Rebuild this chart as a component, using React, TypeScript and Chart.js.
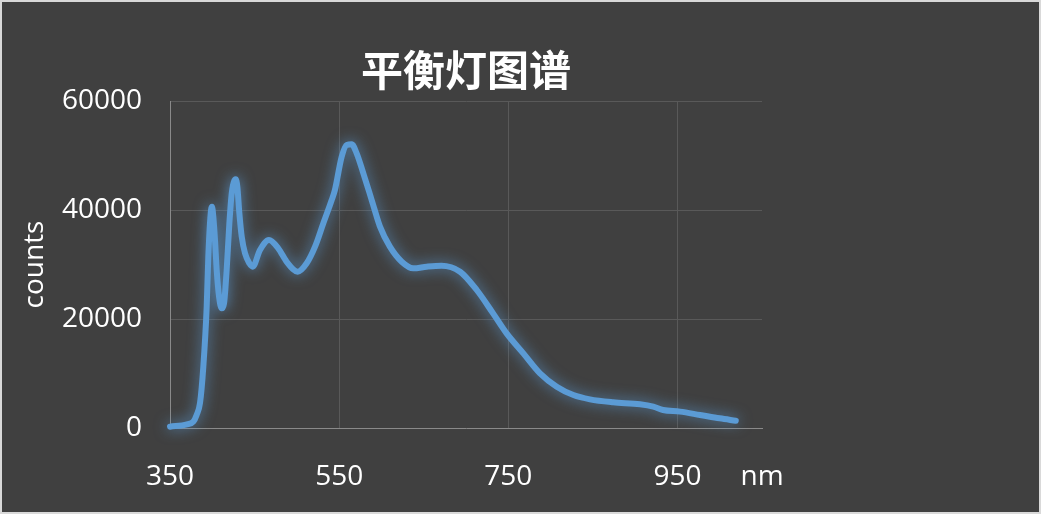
import React, { useEffect, useRef } from "react";
import { Chart, registerables } from "chart.js";

Chart.register(...registerables);

const titleText = "平衡灯图谱";
const yAxisTitle = "counts";
const xUnitLabel = "nm";

const wavelengths = [
  350, 370, 377.6, 381.5, 385.5,
  389.4, 393.4, 395.3, 398.5, 399.7,
  401.2, 403.2, 405.2, 408, 411.1,
  413.9, 417, 420.2, 423, 427.7,
  429.6, 432, 434.8, 438.7, 443.8,
  447.8, 456.4, 467, 478, 488,
  501, 511.6, 521.5, 531.3, 541.2,
  545, 553, 559, 564.8, 570.7,
  578.6, 588.5, 598.3, 610, 624,
  637.7, 653.5, 671, 693, 712.7,
  732, 748, 767.8, 787.5, 807.3,
  827, 846.6, 874, 905.8, 921.5,
  933, 953, 976.7, 1000, 1019,
];

const counts = [
  240, 670, 1160, 2400, 4600,
  11250, 22260, 31430, 40000, 40600,
  38800, 34500, 29000, 24100, 21960,
  22900, 29000, 37560, 43060, 45630,
  44280, 39400, 35100, 32050, 30220,
  29600, 32660, 34500, 32970, 30500,
  28680, 30220, 33270, 37560, 41830,
  43670, 49780, 51930, 52050, 50400,
  46730, 41830, 36940, 33270, 30510,
  29300, 29600, 29780, 28680, 25320,
  21040, 17370, 13700, 10030, 7580,
  6050, 5260, 4710, 4340, 3910,
  3300, 3000, 2390, 1780, 1340,
];

const xTicks = [350, 550, 750, 950, 1050];
const yTicks = [0, 20000, 40000, 60000];

const glowPlugin = {
  id: "glow",
  beforeDatasetDraw(chart: any) {
    const ctx = chart.ctx;
    ctx.save();
    ctx.shadowColor = "rgba(91,155,213,0.8)";
    ctx.shadowBlur = 14;
  },
  afterDatasetDraw(chart: any) {
    chart.ctx.restore();
  },
};

export default function App() {
  const canvasRef = useRef<HTMLCanvasElement | null>(null);

  useEffect(() => {
    document.body.style.margin = "0";
    const canvas = canvasRef.current;
    if (!canvas) return;
    const tickFont = { family: "'Open Sans', 'Noto Sans', sans-serif", size: 28 };
    const chart = new Chart(canvas, {
      type: "line",
      data: {
        datasets: [
          {
            data: wavelengths.map((w, i) => ({ x: w, y: counts[i] })),
            borderColor: "#5B9BD5",
            borderWidth: 6,
            pointRadius: 0,
            tension: 0.4,
            cubicInterpolationMode: "monotone",
            borderCapStyle: "round",
            borderJoinStyle: "round",
            clip: false,
            fill: false,
          } as any,
        ],
      },
      options: {
        animation: false,
        responsive: false,
        devicePixelRatio: 1,
        layout: { padding: { left: 0, right: 277, top: 0, bottom: 0 } },
        plugins: {
          legend: { display: false },
          tooltip: { enabled: false },
          title: {
            display: true,
            text: titleText,
            color: "#ffffff",
            fullSize: false,
            font: { family: "'Noto Sans CJK SC', sans-serif", size: 42, weight: "bold" },
            padding: { top: 43, bottom: 5.6 },
          },
        },
        scales: {
          x: {
            type: "linear",
            min: 350,
            max: 1050,
            afterBuildTicks: (scale: any) => {
              scale.ticks = xTicks.map((v) => ({ value: v }));
            },
            afterFit: (scale: any) => {
              scale.height = 84;
            },
            grid: {
              drawTicks: false,
              color: (c: any) =>
                c.tick && (c.tick.value === 1050 || c.tick.value === 350) ? "rgba(0,0,0,0)" : "#595959",
              lineWidth: 1,
            },
            border: { display: true, color: "#8a8a8a", width: 1 },
            ticks: {
              color: "#ffffff",
              font: tickFont,
              padding: 32,
              autoSkip: false,
              maxRotation: 0,
              callback: (v: any) => (v === 1050 ? xUnitLabel : String(v)),
            },
          },
          y: {
            min: 0,
            max: 60000,
            afterBuildTicks: (scale: any) => {
              scale.ticks = yTicks.map((v) => ({ value: v }));
            },
            afterFit: (scale: any) => {
              scale.width = 168;
            },
            grid: {
              drawTicks: false,
              color: (c: any) => (c.tick && c.tick.value === 0 ? "rgba(0,0,0,0)" : "#595959"),
              lineWidth: 1,
            },
            border: { display: true, color: "#8a8a8a", width: 1 },
            ticks: {
              color: "#ffffff",
              font: tickFont,
              padding: 28,
              autoSkip: false,
              callback: (v: any) => String(v),
            },
            title: {
              display: true,
              text: yAxisTitle,
              color: "#ffffff",
              font: tickFont,
              padding: { top: 16, bottom: 0 },
            },
          },
        },
      },
      plugins: [glowPlugin],
    });
    return () => chart.destroy();
  }, []);

  return (
    <div
      style={{
        width: 1041,
        height: 514,
        boxSizing: "border-box",
        border: "2px solid #d9d9d9",
        background: "#404040",
        overflow: "hidden",
      }}
    >
      <canvas ref={canvasRef} width={1037} height={510} style={{ display: "block" }} />
    </div>
  );
}
